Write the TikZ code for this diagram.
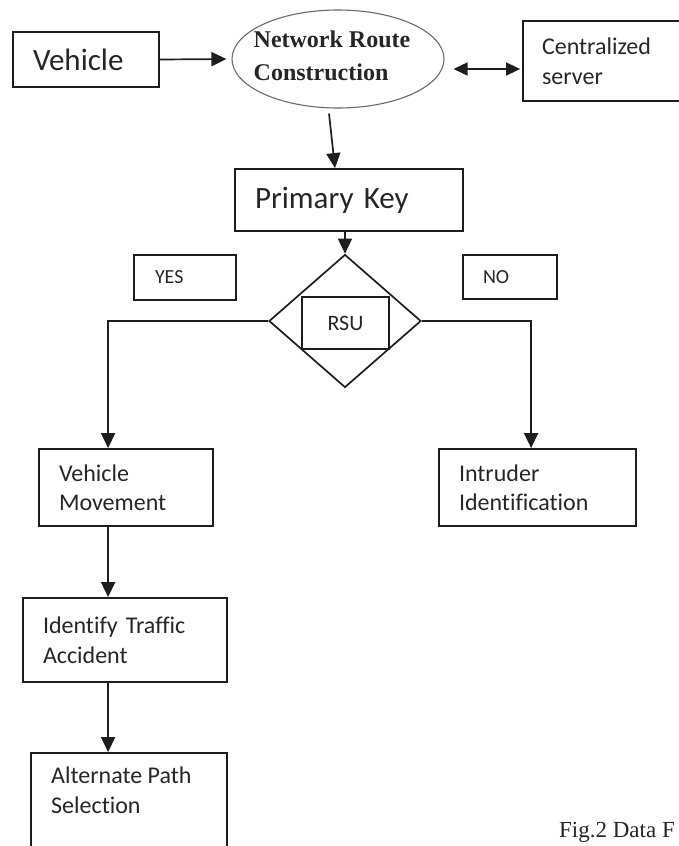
\documentclass[tikz,border=0pt]{standalone}
\usepackage{fontspec}
\setmainfont{Carlito}[Ligatures=NoCommon]
\newfontfamily\serifface{Liberation Serif}
\usetikzlibrary{arrows.meta,shapes.geometric,calc}
\definecolor{ink}{HTML}{1E1E1E}
\definecolor{txt}{HTML}{262626}
\definecolor{rim}{HTML}{6A6A6A}
\begin{document}
\begin{tikzpicture}[x=1pt,y=-1pt,
  box/.style={draw=ink, line width=1.8pt, rectangle, inner ysep=0pt, align=left, text=txt,
              font=\fontsize{24}{29.5}\selectfont},
  arr/.style={draw=ink, line width=1.7pt, -{Triangle[length=15pt,width=14pt]}},
  arrtwo/.style={draw=ink, line width=1.7pt, {Triangle[length=14pt,width=13pt]}-{Triangle[length=14pt,width=13pt]}},
]
\useasboundingbox (0,0) rectangle (678,846);

% top row
\node[box, minimum height=55pt, text width=106pt, inner xsep=20pt,
      font=\fontsize{31}{37}\selectfont] (vehicle) at (86,59.5) {Vehicle};
\node[ellipse, draw=rim, line width=1.1pt, minimum width=212pt, minimum height=98pt,
      inner sep=0pt] (nrc) at (338,59) {};
\node[align=left, inner sep=0pt, text=txt,
      font=\serifface\bfseries\fontsize{24}{33}\selectfont] (nrctext) at (332,55.5)
      {Network Route\\Construction};
\node[box, minimum height=80pt, text width=142pt, inner xsep=19pt,
      font=\fontsize{24}{30}\selectfont] (server) at (613,61) {Centralized\\server};

% primary key and decision
\node[box, minimum height=62pt, text width=188pt, inner xsep=20pt,
      font=\fontsize{31}{37}\selectfont] (pk) at (349,200) {Primary Key};
\node[diamond, draw=ink, line width=1.7pt, minimum width=152pt, minimum height=133pt,
      inner sep=0pt] (dia) at (345,321) {};
\node[box, fill=white, minimum height=52pt, text width=87pt, inner xsep=0pt, align=center,
      font=\fontsize{22}{26}\selectfont] (rsu) at (345.5,323) {RSU};
\node[box, minimum height=45pt, text width=60pt, inner xsep=21pt,
      font=\fontsize{20}{24}\selectfont] (yes) at (185,277.5) {YES};
\node[box, minimum height=44pt, text width=54pt, inner xsep=20pt,
      font=\fontsize{20}{24}\selectfont] (no) at (510,277) {NO};

% branches
\node[box, minimum height=77pt, text width=134pt, inner xsep=20pt] (vm) at (126,487.5)
      {Vehicle\\Movement};
\node[box, minimum height=77pt, text width=157pt, inner xsep=20pt] (intr) at (537.5,487.5)
      {Intruder\\Identification};
\node[box, minimum height=84pt, text width=164pt, inner xsep=20pt] (ita) at (125,640)
      {Identify Traffic\\Accident};
\node[draw=ink, line width=1.8pt, rectangle, minimum width=196pt, minimum height=147pt,
      inner sep=0pt] (aps) at (129,826.5) {};
\node[anchor=north west, align=left, inner sep=0pt, text=txt,
      font=\fontsize{24}{30}\selectfont] (apstext) at (51,767) {Alternate Path\\Selection};

% caption
\node[anchor=base west, inner sep=0pt, text=txt,
      font=\serifface\fontsize{23}{27}\selectfont] (caption) at (559,837) {Fig.2 Data F};

% connectors
\draw[arr, shorten >=5pt] (vehicle.east) -- (nrc.west);
\draw[arrtwo] ($(nrc.east)+(9,10)$) -- ($(server.west)+(-2,8)$);
\draw[arr] ($(nrc.south)+(-9,5)$) -- ($(pk.north)+(-14,0)$);
\draw[arr] (dia.north |- pk.south) -- (dia.north);
\coordinate (vmin) at ($(vm.north west)+(70,0)$);
\coordinate (inin) at ($(intr.north west)+(93,0)$);
\draw[arr] (dia.west) -| (vmin);
\draw[arr] (dia.east) -| (inin);
\coordinate (vmout) at ($(vm.south west)+(70,0)$);
\draw[arr] (vmout) -- (vmout |- ita.north);
\coordinate (itaout) at ($(ita.south west)+(86,0)$);
\draw[arr] (itaout) -- (itaout |- aps.north);
\end{tikzpicture}
\end{document}
